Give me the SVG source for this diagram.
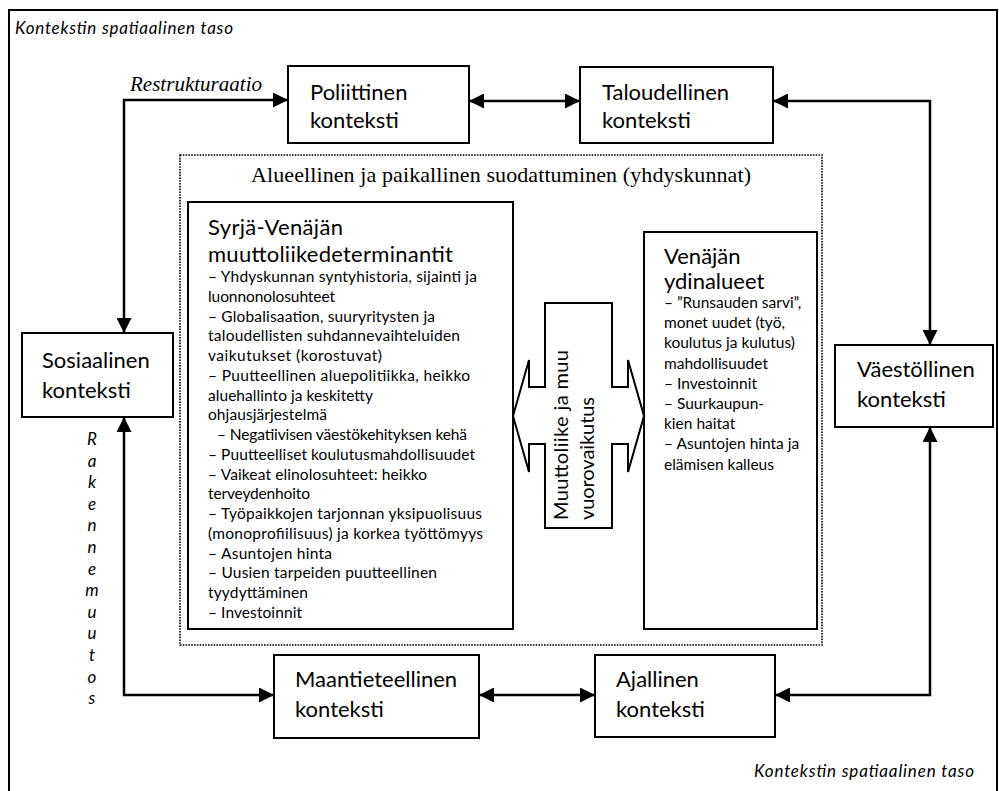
<svg xmlns="http://www.w3.org/2000/svg" width="999" height="791" viewBox="0 0 999 791">
<style>
text{font-family:Lato,"Open Sans","DejaVu Sans",sans-serif;fill:#000}
.lbl{font-size:22px}
.hd{font-size:22px}
.bd{font-size:15.5px}
.it{font-style:italic;font-size:17px}
.ser{font-family:"Liberation Serif","Times New Roman",serif}
.box{fill:#fff;stroke:#000;stroke-width:2}
.con{fill:none;stroke:#000;stroke-width:2.5;marker-start:url(#ah);marker-end:url(#ah)}
</style>
<defs>
<marker id="ah" markerUnits="userSpaceOnUse" markerWidth="15" markerHeight="15" viewBox="0 0 15 15" refX="15" refY="7.5" orient="auto-start-reverse">
<path d="M0,0 L15,7.5 L0,15 z" fill="#000"/>
</marker>
</defs>
<rect x="9" y="10" width="988" height="790" fill="#fff" stroke="#000" stroke-width="2"/>
<text class="it" x="15" y="34" textLength="218">Kontekstin spatiaalinen taso</text>
<text class="it" x="754" y="777" textLength="220">Kontekstin spatiaalinen taso</text>

<g id="filter-area">
<rect x="180" y="155" width="642" height="490" fill="none" stroke="#000" stroke-width="1.6" stroke-dasharray="1.6 1.2"/>
<text class="ser" x="501" y="182" font-size="22" text-anchor="middle" textLength="500">Alueellinen ja paikallinen suodattuminen (yhdyskunnat)</text>
</g>

<g id="connectors">
<path class="con" d="M124,333 L124,100 L288,100"/>
<path class="con" d="M124,417 L124,695 L274,695"/>
<path class="con" d="M469,101 L580,101"/>
<path class="con" d="M773,101 L930,101 L930,345"/>
<path class="con" d="M479,695 L595,695"/>
<path class="con" d="M775,695 L930,695 L930,427"/>
</g>
<text class="ser" x="130" y="91" font-size="21" font-style="italic" textLength="132">Restrukturaatio</text>
<g id="rakennemuutos" class="it" text-anchor="middle" font-size="16">
<text x="92" y="445">R</text><text x="92" y="466.6">a</text><text x="92" y="488.2">k</text><text x="92" y="509.8">e</text><text x="92" y="531.4">n</text><text x="92" y="553">n</text><text x="92" y="574.6">e</text><text x="92" y="596.2">m</text><text x="92" y="617.8">u</text><text x="92" y="639.4">u</text><text x="92" y="661">t</text><text x="92" y="682.6">o</text><text x="92" y="704.2">s</text>
</g>

<g id="poliittinen">
<rect class="box" x="288" y="66" width="181" height="77"/>
<text class="lbl" x="310" y="100">Poliittinen</text>
<text class="lbl" x="310" y="128">konteksti</text>
</g>
<g id="taloudellinen">
<rect class="box" x="580" y="67" width="193" height="76"/>
<text class="lbl" x="602" y="100">Taloudellinen</text>
<text class="lbl" x="602" y="128">konteksti</text>
</g>
<g id="sosiaalinen">
<rect class="box" x="22" y="333" width="151" height="84"/>
<text class="lbl" x="42" y="368">Sosiaalinen</text>
<text class="lbl" x="42" y="398">konteksti</text>
</g>
<g id="vaestollinen">
<rect class="box" x="835" y="345" width="158" height="82"/>
<text class="lbl" x="857" y="377">Väestöllinen</text>
<text class="lbl" x="857" y="407">konteksti</text>
</g>
<g id="maantieteellinen">
<rect class="box" x="274" y="655" width="205" height="83"/>
<text class="lbl" x="295" y="687">Maantieteellinen</text>
<text class="lbl" x="295" y="717">konteksti</text>
</g>
<g id="ajallinen">
<rect class="box" x="595" y="655" width="180" height="82"/>
<text class="lbl" x="616" y="687">Ajallinen</text>
<text class="lbl" x="616" y="717">konteksti</text>
</g>

<g id="syrja-venaja">
<rect class="box" x="188" y="202" width="325" height="427"/>
<text class="hd" x="208" y="235" textLength="135">Syrjä-Venäjän</text>
<text class="hd" x="208" y="262" textLength="245">muuttoliikedeterminantit</text>
<g class="bd">
<text x="208" y="282" textLength="269">– Yhdyskunnan syntyhistoria, sijainti ja</text>
<text x="208" y="301.75" textLength="127">luonnonolosuhteet</text>
<text x="208" y="321.5" textLength="227">– Globalisaation, suuryritysten ja</text>
<text x="208" y="341.25" textLength="252">taloudellisten suhdannevaihteluiden</text>
<text x="208" y="361" textLength="174">vaikutukset (korostuvat)</text>
<text x="208" y="380.75" textLength="262">– Puutteellinen aluepolitiikka, heikko</text>
<text x="208" y="400.5" textLength="165">aluehallinto ja keskitetty</text>
<text x="208" y="420.25" textLength="119">ohjausjärjestelmä</text>
<text x="217" y="440" textLength="250">– Negatiivisen väestökehityksen kehä</text>
<text x="208" y="459.75" textLength="267">– Puutteelliset koulutusmahdollisuudet</text>
<text x="208" y="479.5" textLength="219">– Vaikeat elinolosuhteet: heikko</text>
<text x="208" y="499.25" textLength="102">terveydenhoito</text>
<text x="208" y="519" textLength="274">– Työpaikkojen tarjonnan yksipuolisuus</text>
<text x="208" y="538.75" textLength="275">(monoprofiilisuus) ja korkea työttömyys</text>
<text x="208" y="558.5" textLength="124">– Asuntojen hinta</text>
<text x="208" y="578.25" textLength="229">– Uusien tarpeiden puutteellinen</text>
<text x="208" y="598" textLength="100">tyydyttäminen</text>
<text x="208" y="617.75" textLength="94">– Investoinnit</text>
</g>
</g>

<g id="venajan-ydinalueet">
<rect class="box" x="644" y="232" width="173" height="397"/>
<text class="hd" x="664" y="264">Venäjän</text>
<text class="hd" x="664" y="289">ydinalueet</text>
<g class="bd">
<text x="664" y="308">– ”Runsauden sarvi”,</text>
<text x="664" y="328.2">monet uudet (työ,</text>
<text x="664" y="348.4">koulutus ja kulutus)</text>
<text x="664" y="368.6">mahdollisuudet</text>
<text x="664" y="388.8">– Investoinnit</text>
<text x="664" y="409">– Suurkaupun-</text>
<text x="664" y="429.2">kien haitat</text>
<text x="664" y="449.4">– Asuntojen hinta ja</text>
<text x="664" y="469.6">elämisen kalleus</text>
</g>
</g>

<g id="muuttoliike">
<path d="M545,303 L612,303 L612,387 L628,387 L628,360 L644,416 L628,472 L628,444 L612,444 L612,528 L545,528 L545,444 L529,444 L529,472 L513,416 L529,360 L529,387 L545,387 Z" fill="#fff" stroke="#000" stroke-width="2" stroke-linejoin="miter"/>
<text font-size="20" transform="translate(568,520) rotate(-90)" textLength="170">Muuttoliike ja muu</text>
<text font-size="20" transform="translate(594,520) rotate(-90)" textLength="123">vuorovaikutus</text>
</g>
</svg>
